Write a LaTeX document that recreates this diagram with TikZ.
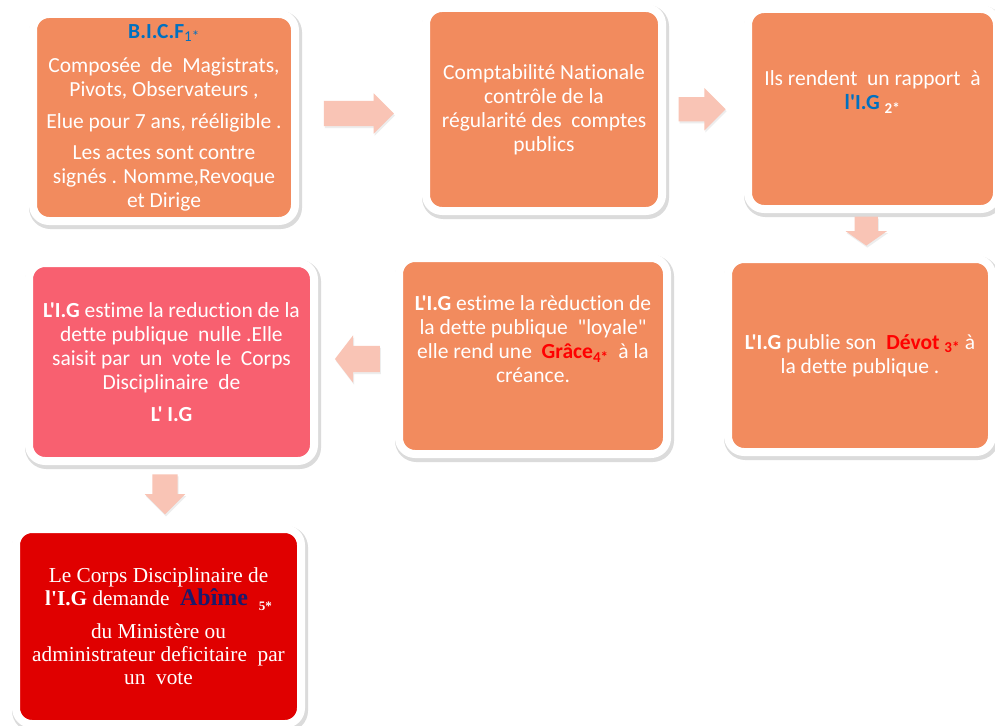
\documentclass[tikz,border=0pt]{standalone}
\usepackage{fontspec}
\newfontfamily\calfam{Carlito}[Ligatures=NoCommon]
\newfontfamily\timesfam{Liberation Serif}
\usetikzlibrary{shapes.arrows,shadows,calc}

\definecolor{cardorange}{HTML}{F28B5E}
\definecolor{cardpink}{HTML}{F86070}
\definecolor{cardred}{HTML}{E00000}
\definecolor{flowpink}{HTML}{F9C4B5}
\definecolor{igblue}{HTML}{0070C0}
\definecolor{abnavy}{HTML}{1A1A6B}

\tikzstyle{card}=[draw=white, line width=8pt, rounded corners=16pt, fill=cardorange, text=white, align=center, inner sep=0pt, font=\calfam\fontsize{21.5}{24}\selectfont, drop shadow={shadow xshift=1.5pt, shadow yshift=-2.5pt, opacity=1, fill=black!14, draw=black!14, line width=11pt}]
\tikzstyle{flow}=[single arrow, draw=none, fill=flowpink, inner xsep=0pt, single arrow tip angle=90, drop shadow={shadow xshift=1pt, shadow yshift=-2pt, opacity=1, fill=black!7}]

\begin{document}
\begin{tikzpicture}[x=1pt, y=-1pt]
    \useasboundingbox[fill=white] (0,0) rectangle (995,725);
    % top row
    \node [card, minimum width=262pt, minimum height=207pt] (bicf) at (164,117.5) {\textcolor{igblue}{\textbf{B.I.C.F}\textsubscript{1*}}\\[10pt] Composée~ de~ Magistrats,\\ Pivots, Observateurs ,\\[8pt] Elue pour 7 ans, rééligible .\\[7pt] Les actes sont contre\\ signés . Nomme,Revoque\\ et Dirige};
    \node [card, minimum width=236pt, minimum height=203pt] (compta) at (544,109.5) {Comptabilité Nationale\\ contrôle de la\\ régularité des~ comptes\\ publics};
    \node [card, minimum width=249pt, minimum height=200pt] (rapport) at (872.5,109) {Ils rendent~ un rapport~ à\\ \textcolor{igblue}{\textbf{l'I.G}} \textsubscript{\textbf{2*}}\\[14pt]\mbox{}};
    % middle row
    \node [card, minimum width=264pt, minimum height=193pt] (devot) at (860,355.5) {\textbf{L'I.G} publie son~ \textcolor{red}{\textbf{Dévot \textsubscript{3*}}} à\\ la dette publique .};
    \node [card, minimum width=268pt, minimum height=196pt] (grace) at (533,356) {\textbf{L'I.G} estime la rèduction de\\ la dette publique~ "loyale"\\ elle rend une~ \textcolor{red}{\textbf{Grâce\textsubscript{4*}}}~ à la\\ créance.\\[10pt]\mbox{}};
    \node [card, fill=cardpink, minimum width=285pt, minimum height=198pt] (nulle) at (171.5,362) {\textbf{L'I.G} estime la reduction de la\\ dette publique~ nulle .Elle\\ saisit par~ un~ vote le~ Corps\\ Disciplinaire~ de\\[8pt] \textbf{L' I.G}};
    % bottom
    \node [card, fill=cardred, minimum width=285pt, minimum height=195pt, font=\timesfam\fontsize{21.3}{23}\selectfont] (abime) at (158.5,626.5) {Le Corps Disciplinaire de\\ \textbf{l'I.G} demande~ \textcolor{abnavy}{\fontsize{24}{24}\selectfont\textbf{Abîme}}~ \raisebox{-5pt}{\fontsize{13}{13}\selectfont\textbf{5*}}\\[10pt] du Ministère ou\\ administrateur deficitaire~ par\\ un~ vote};
    % arrows
    \node [flow, xshift=-8pt, minimum height=70pt, inner ysep=12.5pt, single arrow head extend=7.5pt] (f1) at ($(bicf.east)!0.5!(compta.west)$) {};
    \node [flow, xshift=-9pt, minimum height=47pt, inner ysep=12pt, single arrow head extend=9pt] (f2) at ($(compta.east)!0.5!(rapport.west)$) {};
    \node [flow, yshift=7pt, rotate=270, minimum height=29pt, inner ysep=11.5pt, single arrow head extend=9pt, single arrow tip angle=110] (f3) at ($(rapport.south)!0.5!(devot.north)$) {};
    \node [flow, xshift=6pt, rotate=180, minimum height=45pt, inner ysep=13pt, single arrow head extend=10.5pt, single arrow tip angle=105] (f4) at ($(grace.west)!0.5!(nulle.east)$) {};
    \node [flow, yshift=7pt, rotate=270, minimum height=40pt, inner ysep=12.5pt, single arrow head extend=7.5pt] (f5) at ($(nulle.south)!0.5!(abime.north)$) {};
\end{tikzpicture}
\end{document}
